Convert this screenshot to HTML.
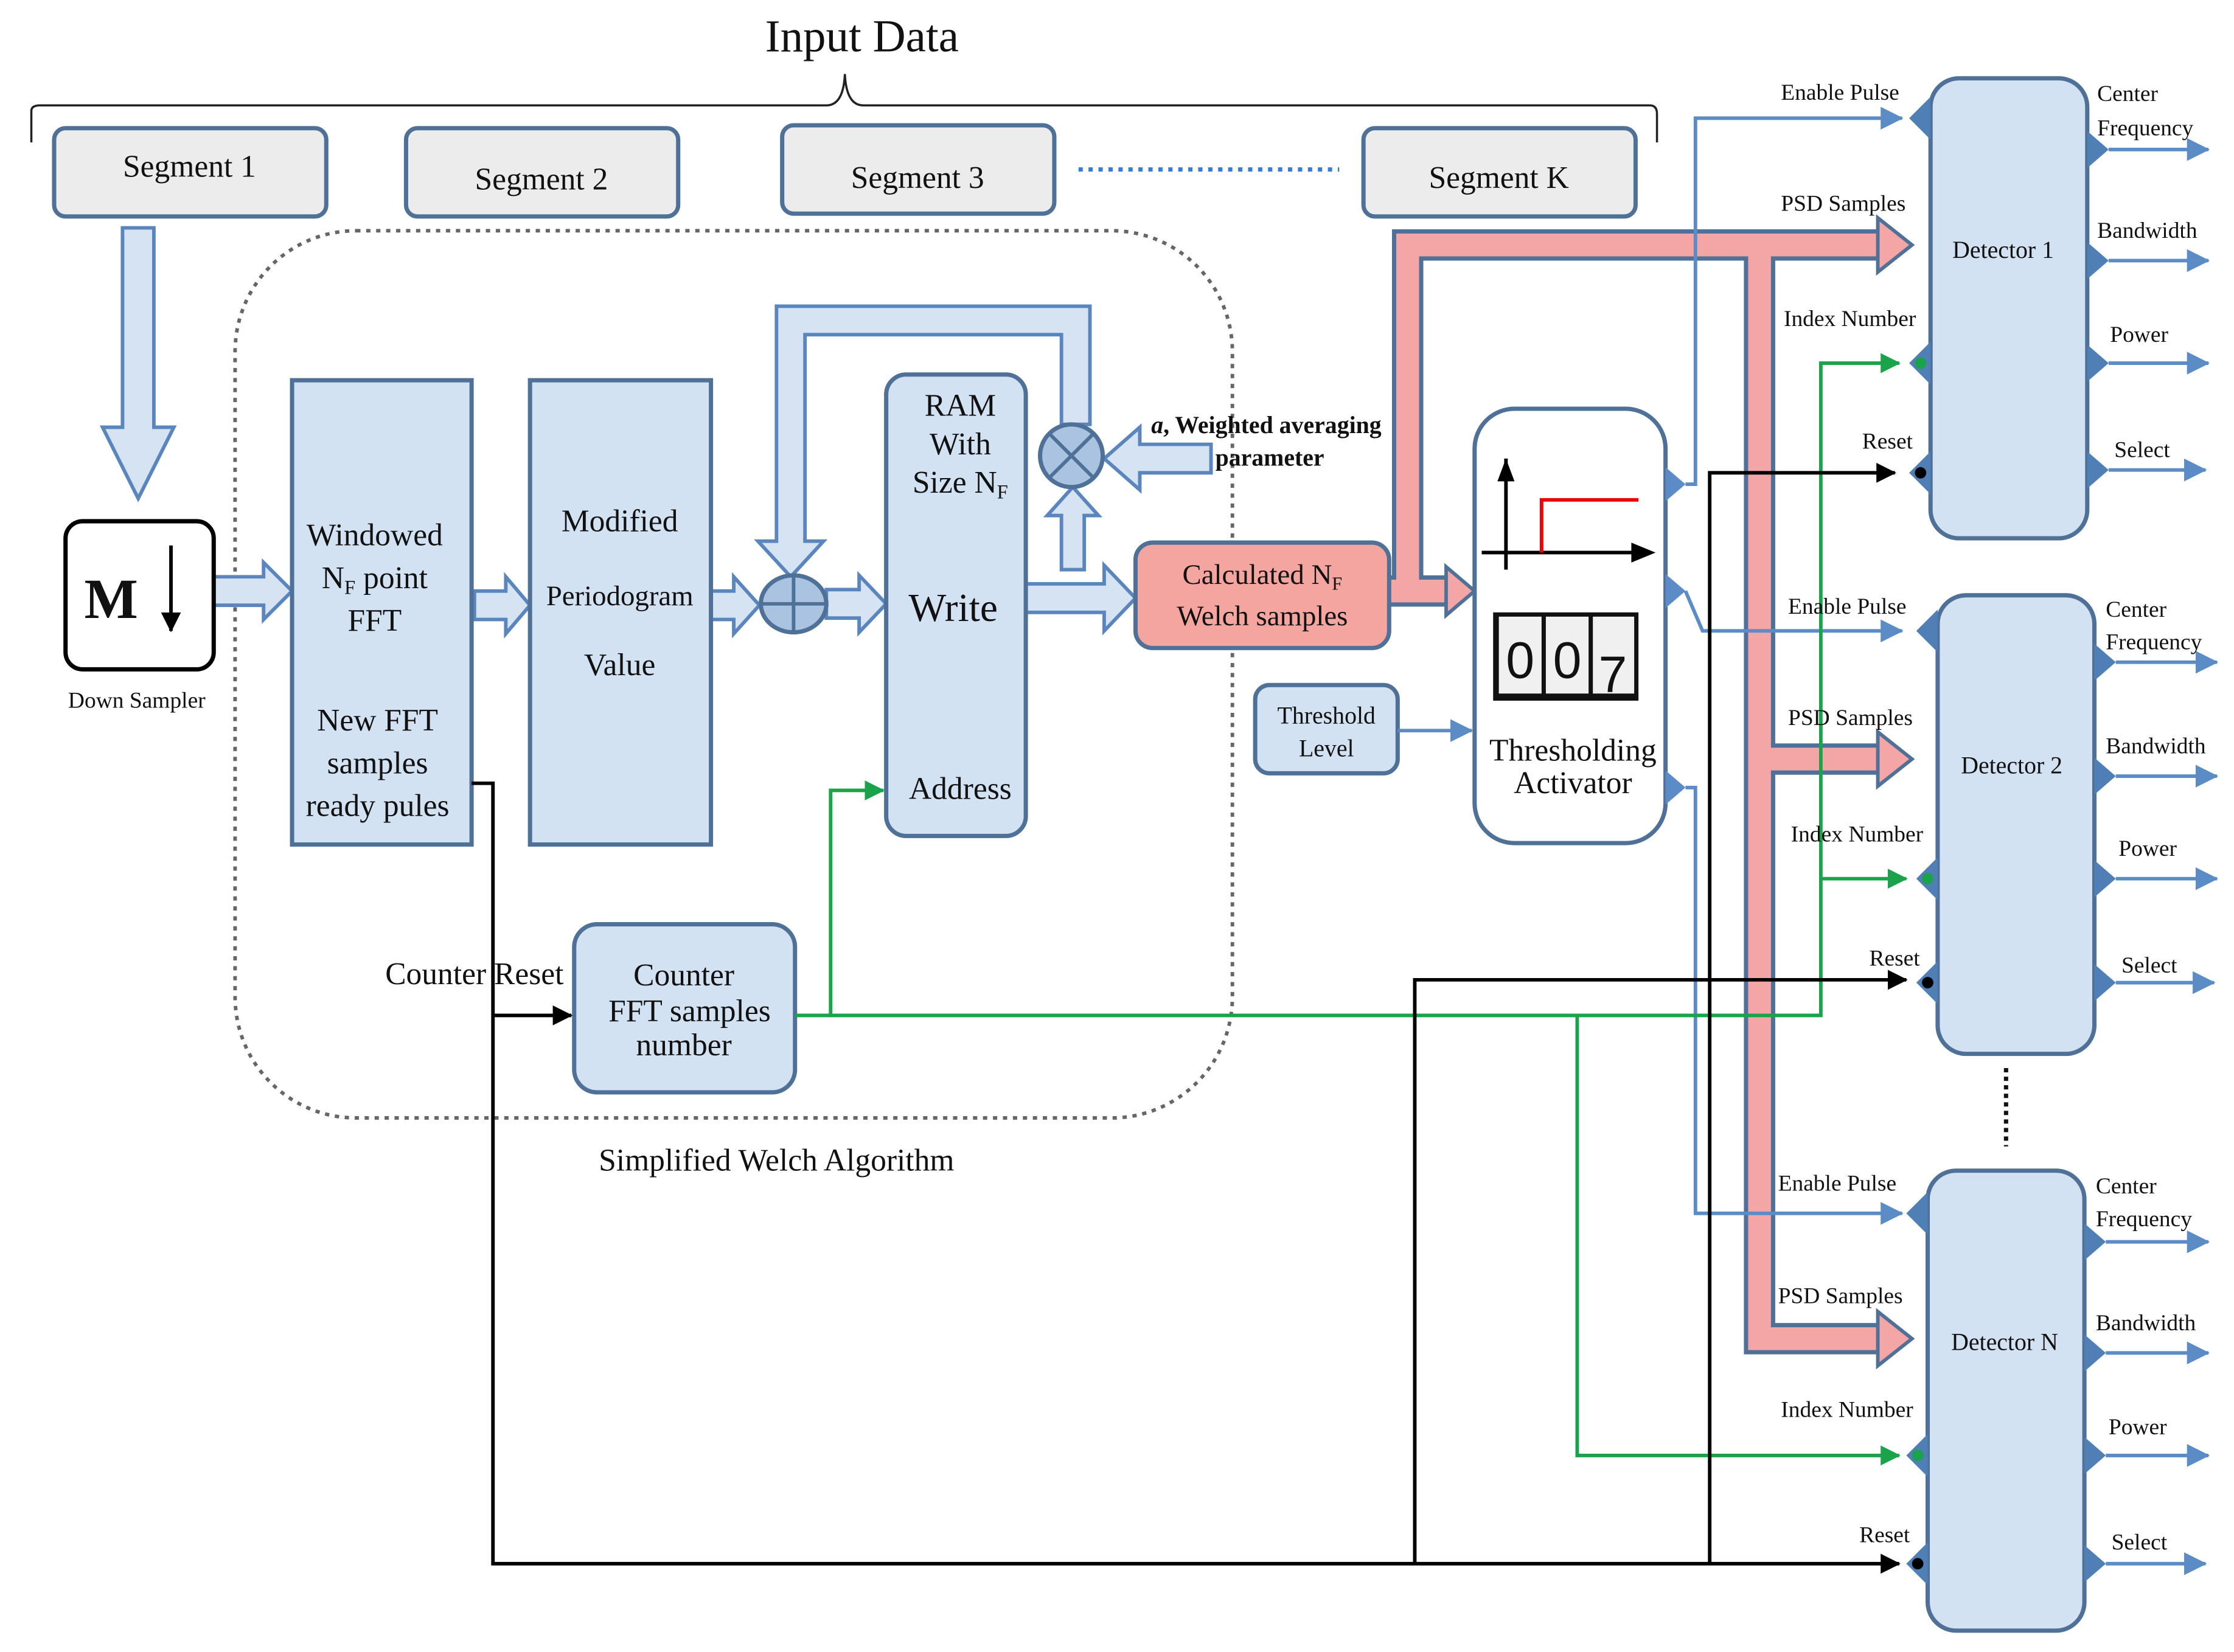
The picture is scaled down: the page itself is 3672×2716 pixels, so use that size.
<!DOCTYPE html>
<html><head><meta charset="utf-8">
<style>
html,body{margin:0;padding:0;background:#fff;}
svg{display:block;}
text{font-family:"Liberation Serif",serif;fill:#111;}
</style></head>
<body>
<svg width="3672" height="2716" viewBox="0 0 1568 1160" preserveAspectRatio="none" xmlns="http://www.w3.org/2000/svg">
<defs>
<marker id="ab" markerWidth="10" markerHeight="10" refX="9" refY="5" orient="auto" markerUnits="userSpaceOnUse"><path d="M0,0 L10,5 L0,10 z" fill="#5b8cc6"/></marker>
<marker id="ak" markerWidth="14" markerHeight="14" refX="13" refY="7" orient="auto" markerUnits="userSpaceOnUse"><path d="M0,0 L14,7 L0,14 z" fill="#000"/></marker>
<marker id="ag" markerWidth="14" markerHeight="14" refX="13" refY="7" orient="auto" markerUnits="userSpaceOnUse"><path d="M0,0 L14,7 L0,14 z" fill="#1aa34a"/></marker>
<marker id="ab2" markerWidth="16" markerHeight="16" refX="15" refY="8" orient="auto" markerUnits="userSpaceOnUse"><path d="M0,0 L16,8 L0,16 z" fill="#5b8cc6"/></marker>
</defs>

<!-- Title and brace -->
<text x="605" y="36" font-size="32" text-anchor="middle">Input Data</text>
<path d="M22,100 L22,78 Q22,74 28,74 L580,74 Q592,74 593,52 Q594,74 606,74 L1158,74 Q1163,74 1163,80 L1163,100" fill="none" stroke="#222" stroke-width="1.5"/>

<!-- Segments -->
<g fill="#ececec" stroke="#4f7198" stroke-width="3">
<rect x="38" y="90" width="191" height="62" rx="8"/>
<rect x="285" y="90" width="191" height="62" rx="8"/>
<rect x="549" y="88" width="191" height="62" rx="8"/>
<rect x="957" y="90" width="191" height="62" rx="8"/>
</g>
<g font-size="22" text-anchor="middle">
<text x="133" y="124">Segment 1</text>
<text x="380" y="133">Segment 2</text>
<text x="644" y="132">Segment 3</text>
<text x="1052" y="132">Segment K</text>
</g>
<line x1="757" y1="119" x2="940" y2="119" stroke="#3a7bd5" stroke-width="3" stroke-dasharray="3,4"/>

<!-- Dotted region -->
<rect x="165" y="162" width="700" height="623" rx="85" fill="none" stroke="#666" stroke-width="2.5" stroke-dasharray="3,4"/>

<!-- hollow arrows -->
<g fill="#d6e3f2" stroke="#5a86bd" stroke-width="2.5">
<polygon points="86,160 108,160 108,300 122,300 97,350 72,300 86,300"/>
<polygon points="150,405 185,405 185,395 205,415 185,435 185,425 150,425"/>
<polygon points="333,415 355,415 355,405 372,425 355,445 355,435 333,435"/>
<polygon points="499,415 515,415 515,405 533,425 515,445 515,435 499,435"/>
<polygon points="580,414 603,414 603,404 622,424 603,444 603,434 580,434"/>
<polygon points="720,410 775,410 775,397 797,420 775,443 775,430 720,430"/>
<polygon points="545,215 765,215 765,298 745,298 745,235 565,235 565,380 578,380 555,405 532,380 545,380"/>
<polygon points="745,400 745,362 735,362 753,342 771,362 761,362 761,400"/>
<polygon points="850,312 800,312 800,300 775,322 800,344 800,332 850,332"/>
</g>

<!-- M box -->
<rect x="46" y="366" width="104" height="104" rx="12" fill="#fff" stroke="#000" stroke-width="3"/>
<text x="78" y="434" font-size="40" font-weight="bold" text-anchor="middle">M</text>
<line x1="120" y1="383" x2="120" y2="443" stroke="#000" stroke-width="2.5" marker-end="url(#ak)"/>
<text x="96" y="497" font-size="16" text-anchor="middle">Down Sampler</text>

<!-- Blocks -->
<g fill="#d3e2f2" stroke="#4f7198" stroke-width="3">
<rect x="205" y="267" width="126" height="326"/>
<rect x="372" y="267" width="127" height="326"/>
<rect x="622" y="263" width="98" height="324" rx="14"/>
<rect x="403" y="649" width="155" height="118" rx="16"/>
<rect x="881" y="481" width="100" height="62" rx="10"/>
</g>
<g font-size="22" text-anchor="middle">
<text x="263" y="383">Windowed</text>
<text x="263" y="413">N<tspan font-size="14" dy="4">F</tspan><tspan dy="-4"> point</tspan></text>
<text x="263" y="443">FFT</text>
<text x="265" y="513">New FFT</text>
<text x="265" y="543">samples</text>
<text x="265" y="573">ready pules</text>
<text x="435" y="373">Modified</text>
<text x="435" y="425" font-size="20">Periodogram</text>
<text x="435" y="474">Value</text>
<text x="674" y="292">RAM</text>
<text x="674" y="319">With</text>
<text x="674" y="346">Size N<tspan font-size="14" dy="4">F</tspan></text>
<text x="669" y="436" font-size="28">Write</text>
<text x="674" y="561">Address</text>
<text x="480" y="692">Counter</text>
<text x="484" y="717">FFT samples</text>
<text x="480" y="741">number</text>
<text x="333" y="691">Counter Reset</text>
<text x="545" y="822">Simplified Welch Algorithm</text>
<text x="931" y="508" font-size="17">Threshold</text>
<text x="931" y="531" font-size="17">Level</text>
</g>

<!-- sum and multiplier circles -->
<g fill="#a9c3e0" stroke="#4f7198" stroke-width="3">
<ellipse cx="557" cy="424" rx="23" ry="20"/>
<circle cx="752" cy="320" r="22"/>
</g>
<path d="M534,424 H580 M557,404 V444" stroke="#4f7198" stroke-width="2.5"/>
<path d="M737,305 L767,335 M767,305 L737,335" stroke="#4f7198" stroke-width="2.5"/>
<text x="808" y="304" font-size="17" font-weight="bold"><tspan font-style="italic">a</tspan>, Weighted averaging</text>
<text x="853" y="327" font-size="17" font-weight="bold">parameter</text>

<!-- Pink bus -->
<path d="M975,415 L1018,415 M988,415 L988,172 L1322,172 M1235,172 L1235,940 L1322,940 M1235,533 L1322,533" fill="none" stroke="#4f7198" stroke-width="22" stroke-linejoin="miter"/>
<path d="M975,415 L1018,415 M988,415 L988,172 L1322,172 M1235,172 L1235,940 L1322,940 M1235,533 L1322,533" fill="none" stroke="#f4a5a5" stroke-width="16" stroke-linejoin="miter"/>
<g fill="#f4a5a5" stroke="#4f7198" stroke-width="2.5">
<polygon points="1015,398 1035,415 1015,432"/>
<polygon points="1318,153 1342,172 1318,191"/>
<polygon points="1318,514 1342,533 1318,552"/>
<polygon points="1318,921 1342,940 1318,959"/>
</g>

<!-- Calculated box -->
<rect x="797" y="381" width="178" height="74" rx="12" fill="#f4a5a0" stroke="#4f7198" stroke-width="3"/>
<text x="886" y="410" font-size="20" text-anchor="middle">Calculated N<tspan font-size="13" dy="4">F</tspan></text>
<text x="886" y="439" font-size="20" text-anchor="middle">Welch samples</text>

<!-- Threshold level arrow -->
<line x1="981" y1="513" x2="1033" y2="513" stroke="#5b8cc6" stroke-width="2.5" marker-end="url(#ab2)"/>

<!-- Thresholding Activator -->
<rect x="1035" y="287" width="134" height="305" rx="28" fill="#fff" stroke="#4f7198" stroke-width="3"/>
<line x1="1057" y1="400" x2="1057" y2="322" stroke="#000" stroke-width="2.5"/>
<polygon points="1051,338 1057,322 1063,338" fill="#000"/>
<line x1="1040" y1="388" x2="1150" y2="388" stroke="#000" stroke-width="2.5"/>
<polygon points="1145,381 1162,388 1145,395" fill="#000"/>
<path d="M1082,388 V351 H1150" fill="none" stroke="#e00" stroke-width="2.5"/>
<rect x="1048" y="430" width="102" height="62" fill="#111"/>
<rect x="1052" y="433" width="30" height="54" fill="#f0f0f0"/>
<rect x="1085" y="433" width="30" height="54" fill="#f0f0f0"/>
<rect x="1118" y="433" width="29" height="54" fill="#f0f0f0"/>
<g font-family="Liberation Sans" font-size="36" text-anchor="middle">
<text x="1067" y="476" style="font-family:'Liberation Sans',sans-serif">0</text>
<text x="1100" y="476" style="font-family:'Liberation Sans',sans-serif">0</text>
<text x="1132" y="486" style="font-family:'Liberation Sans',sans-serif">7</text>
</g>
<text x="1104" y="534" font-size="22" text-anchor="middle">Thresholding</text>
<text x="1104" y="557" font-size="22" text-anchor="middle">Activator</text>
<g fill="#5b8cc6">
<polygon points="1169,328 1183,340 1169,352"/>
<polygon points="1169,403 1183,415 1169,427"/>
<polygon points="1169,541 1183,553 1169,565"/>
</g>

<!-- Activator blue outputs -->
<g fill="none" stroke="#5b8cc6" stroke-width="2.5">
<path d="M1183,340 H1190 V83 H1335" marker-end="url(#ab2)"/>
<path d="M1183,415 L1195,443 H1335" marker-end="url(#ab2)"/>
<path d="M1183,553 H1190 V852 H1335" marker-end="url(#ab2)"/>
</g>

<!-- Green lines -->
<g fill="none" stroke="#1aa34a" stroke-width="2.5">
<path d="M558,713 H583 V555 H620" marker-end="url(#ag)"/>
<path d="M583,713 H1278 V255 H1333" marker-end="url(#ag)"/>
<path d="M1278,617 H1338" marker-end="url(#ag)"/>
<path d="M1107,713 V1022 H1333" marker-end="url(#ag)"/>
</g>

<!-- Black lines -->
<g fill="none" stroke="#000" stroke-width="2.5">
<path d="M331,550 H346 V1098 H1333" marker-end="url(#ak)"/>
<path d="M346,713 H401" marker-end="url(#ak)"/>
<path d="M993,1098 V688 H1338" marker-end="url(#ak)"/>
<path d="M1200,1098 V332 H1330" marker-end="url(#ak)"/>
</g>

<!-- Detectors -->
<g fill="#d3e2f2" stroke="#4f7198" stroke-width="3">
<rect x="1355" y="55" width="110" height="323" rx="20"/>
<rect x="1360" y="418" width="110" height="322" rx="20"/>
<rect x="1353" y="822" width="110" height="323" rx="20"/>
</g>
<g font-size="17" text-anchor="middle">
<text x="1406" y="181">Detector 1</text>
<text x="1412" y="543">Detector 2</text>
<text x="1407" y="948">Detector N</text>
</g>
<line x1="1408" y1="750" x2="1408" y2="805" stroke="#111" stroke-width="3" stroke-dasharray="3,3"/>

<!-- Detector input triangles -->
<g fill="#4f7fb5">
<polygon points="1355,68 1340,83 1355,98"/>
<polygon points="1355,240 1340,255 1355,270"/>
<polygon points="1355,317 1340,332 1355,347"/>
<polygon points="1360,428 1345,443 1360,458"/>
<polygon points="1360,602 1345,617 1360,632"/>
<polygon points="1360,675 1345,690 1360,705"/>
<polygon points="1353,837 1338,852 1353,867"/>
<polygon points="1353,1007 1338,1022 1353,1037"/>
<polygon points="1353,1083 1338,1098 1353,1113"/>
</g>
<g fill="#1aa34a"><circle cx="1348" cy="255" r="4"/><circle cx="1353" cy="617" r="4"/><circle cx="1346" cy="1022" r="4"/></g>
<g fill="#000"><circle cx="1348" cy="332" r="4"/><circle cx="1353" cy="690" r="4"/><circle cx="1346" cy="1098" r="4"/></g>

<!-- Detector outputs -->
<g fill="#4f7fb5">
<polygon points="1465,92 1480,105 1465,118"/><polygon points="1465,170 1480,183 1465,196"/><polygon points="1465,242 1480,255 1465,268"/><polygon points="1465,317 1480,330 1465,343"/>
<polygon points="1470,452 1485,465 1470,478"/><polygon points="1470,532 1485,545 1470,558"/><polygon points="1470,604 1485,617 1470,630"/><polygon points="1470,677 1485,690 1470,703"/>
<polygon points="1463,859 1478,872 1463,885"/><polygon points="1463,937 1478,950 1463,963"/><polygon points="1463,1009 1478,1022 1463,1035"/><polygon points="1463,1085 1478,1098 1463,1111"/>
</g>
<g stroke="#5b8cc6" stroke-width="2.5" marker-end="url(#ab2)">
<line x1="1480" y1="105" x2="1550" y2="105"/><line x1="1480" y1="183" x2="1550" y2="183"/><line x1="1480" y1="255" x2="1550" y2="255"/><line x1="1480" y1="330" x2="1548" y2="330"/>
<line x1="1485" y1="465" x2="1556" y2="465"/><line x1="1485" y1="545" x2="1556" y2="545"/><line x1="1485" y1="617" x2="1556" y2="617"/><line x1="1485" y1="690" x2="1554" y2="690"/>
<line x1="1478" y1="872" x2="1550" y2="872"/><line x1="1478" y1="950" x2="1550" y2="950"/><line x1="1478" y1="1022" x2="1550" y2="1022"/><line x1="1478" y1="1098" x2="1548" y2="1098"/>
</g>

<!-- Detector labels -->
<g font-size="16">
<text x="1250" y="70">Enable Pulse</text>
<text x="1250" y="148">PSD Samples</text>
<text x="1252" y="229">Index Number</text>
<text x="1307" y="315">Reset</text>
<text x="1472" y="71">Center</text>
<text x="1472" y="95">Frequency</text>
<text x="1472" y="167">Bandwidth</text>
<text x="1481" y="240">Power</text>
<text x="1484" y="321">Select</text>

<text x="1255" y="431">Enable Pulse</text>
<text x="1255" y="509">PSD Samples</text>
<text x="1257" y="591">Index Number</text>
<text x="1312" y="678">Reset</text>
<text x="1478" y="433">Center</text>
<text x="1478" y="456">Frequency</text>
<text x="1478" y="529">Bandwidth</text>
<text x="1487" y="601">Power</text>
<text x="1489" y="683">Select</text>

<text x="1248" y="836">Enable Pulse</text>
<text x="1248" y="915">PSD Samples</text>
<text x="1250" y="995">Index Number</text>
<text x="1305" y="1083">Reset</text>
<text x="1471" y="838">Center</text>
<text x="1471" y="861">Frequency</text>
<text x="1471" y="934">Bandwidth</text>
<text x="1480" y="1007">Power</text>
<text x="1482" y="1088">Select</text>
</g>
</svg>
</body></html>
